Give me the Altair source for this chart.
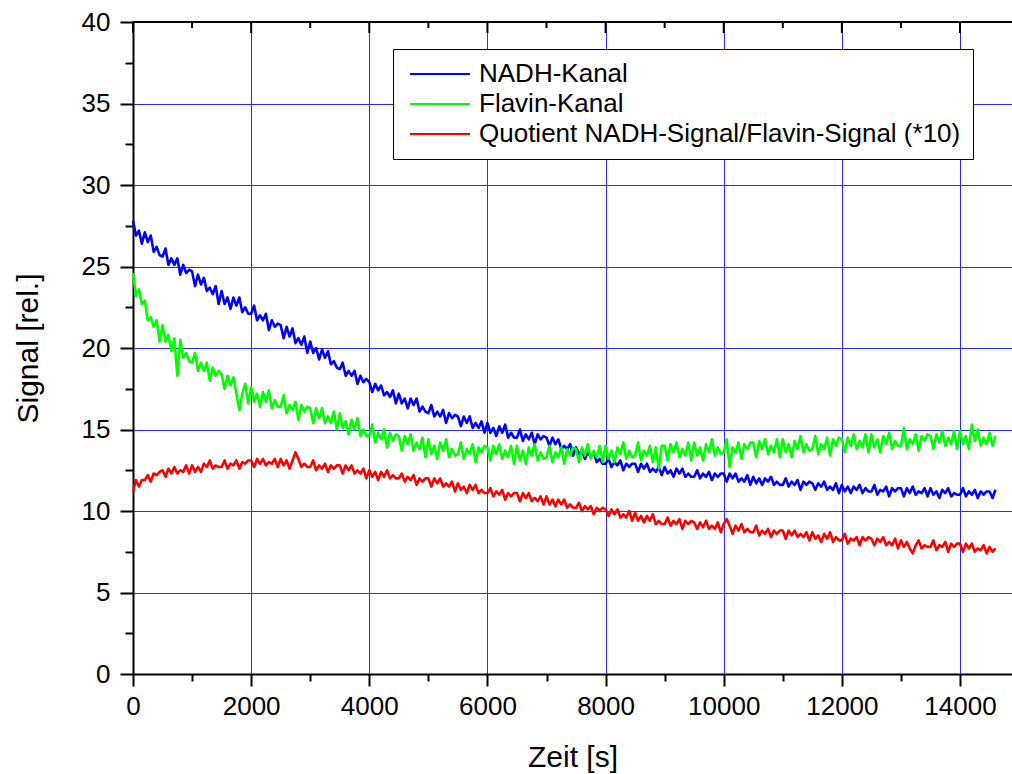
import altair as alt
import pandas as pd

# ---- values, one every 50 s (0 ... 14600 s) ----
nadh = [
    27.8, 26.9, 27.2, 26.4, 27.1, 26.5, 26.9, 25.9, 26.2, 25.7,
    25.6, 26.1, 25.1, 25.5, 25.1, 25.5, 24.5, 25.1, 24.6, 24.8,
    24.7, 23.8, 24.5, 23.9, 24.3, 23.5, 23.7, 23.3, 23.8, 22.7,
    23.5, 22.7, 23.1, 22.4, 23.1, 22.6, 23.1, 22.2, 22.5, 22.1,
    22.1, 22.6, 21.7, 22.0, 21.7, 22.1, 21.1, 21.7, 21.3, 21.5,
    21.4, 20.6, 21.3, 20.7, 21.2, 20.3, 20.6, 20.2, 20.7, 19.7,
    20.4, 19.7, 20.0, 19.3, 19.9, 19.4, 19.8, 19.0, 19.2, 18.8,
    18.7, 19.1, 18.3, 18.6, 18.3, 18.6, 17.8, 18.3, 17.9, 18.1,
    17.9, 17.3, 17.8, 17.4, 17.7, 17.1, 17.3, 17.0, 17.4, 16.6,
    17.2, 16.6, 16.9, 16.3, 16.9, 16.5, 16.9, 16.1, 16.4, 16.1,
    16.0, 16.5, 15.8, 16.1, 15.8, 16.2, 15.4, 16.0, 15.7, 15.9,
    15.8, 15.2, 15.8, 15.4, 15.8, 15.1, 15.4, 15.1, 15.5, 14.8,
    15.4, 14.8, 15.1, 14.6, 15.2, 14.8, 15.3, 14.5, 14.8, 14.5,
    14.5, 15.0, 14.3, 14.7, 14.4, 14.8, 14.1, 14.7, 14.4, 14.6,
    14.5, 14.0, 14.5, 14.1, 14.4, 13.8, 14.0, 13.8, 14.1, 13.4,
    13.9, 13.5, 13.7, 13.2, 13.6, 13.3, 13.6, 13.0, 13.2, 12.9,
    12.9, 13.2, 12.7, 13.0, 12.8, 13.1, 12.5, 12.9, 12.7, 12.9,
    12.9, 12.4, 12.9, 12.6, 12.9, 12.4, 12.6, 12.4, 12.7, 12.2,
    12.7, 12.3, 12.5, 12.1, 12.6, 12.3, 12.6, 12.1, 12.3, 12.1,
    12.1, 12.5, 12.0, 12.3, 12.1, 12.4, 11.9, 12.3, 12.1, 12.3,
    12.3, 11.8, 12.3, 12.0, 12.3, 11.8, 12.0, 11.8, 12.2, 11.6,
    12.1, 11.7, 12.0, 11.6, 12.0, 11.8, 12.1, 11.6, 11.8, 11.6,
    11.6, 12.0, 11.5, 11.8, 11.6, 11.9, 11.3, 11.8, 11.6, 11.8,
    11.7, 11.3, 11.7, 11.5, 11.8, 11.3, 11.5, 11.3, 11.7, 11.1,
    11.6, 11.2, 11.5, 11.1, 11.5, 11.3, 11.6, 11.1, 11.4, 11.2,
    11.2, 11.6, 11.0, 11.3, 11.2, 11.5, 10.9, 11.4, 11.2, 11.4,
    11.4, 10.9, 11.4, 11.1, 11.5, 11.0, 11.2, 11.1, 11.4, 10.9,
    11.4, 11.0, 11.2, 10.8, 11.3, 11.1, 11.4, 10.9, 11.1, 11.0,
    11.0, 11.4, 10.9, 11.2, 11.0, 11.3, 10.8, 11.2, 11.0, 11.2,
    11.2, 10.8, 11.3,
]
flavin = [
    24.6, 23.2, 23.6, 22.7, 22.9, 21.7, 21.9, 21.3, 21.7, 20.4,
    21.4, 20.4, 20.8, 19.8, 20.6, 18.3, 20.5, 19.4, 19.7, 19.2,
    19.1, 19.7, 18.6, 19.1, 18.6, 19.1, 18.0, 18.8, 18.3, 18.6,
    18.4, 17.5, 18.3, 17.7, 18.2, 17.2, 16.2, 17.2, 17.8, 16.6,
    17.6, 16.7, 17.2, 16.4, 17.3, 16.7, 17.4, 16.3, 16.8, 16.4,
    16.4, 17.1, 16.0, 16.5, 16.2, 16.7, 15.6, 16.5, 16.1, 16.4,
    16.3, 15.4, 16.3, 15.7, 16.3, 15.4, 15.8, 15.4, 16.1, 15.0,
    16.0, 15.1, 15.5, 14.7, 15.6, 15.0, 15.7, 14.6, 15.0, 14.6,
    14.6, 15.3, 14.2, 14.8, 14.4, 15.0, 13.9, 14.8, 14.3, 14.7,
    14.6, 13.7, 14.6, 14.1, 14.7, 13.7, 14.2, 13.8, 14.5, 13.3,
    14.4, 13.5, 14.0, 13.2, 14.2, 13.7, 14.4, 13.3, 13.8, 13.4,
    13.5, 14.2, 13.2, 13.8, 13.5, 14.1, 13.0, 13.9, 13.6, 14.0,
    13.9, 13.1, 14.0, 13.5, 14.1, 13.2, 13.7, 13.3, 14.0, 12.9,
    14.0, 13.1, 13.7, 12.9, 13.9, 13.4, 14.1, 13.1, 13.6, 13.2,
    13.3, 14.0, 13.0, 13.6, 13.3, 13.9, 12.9, 13.8, 13.4, 13.9,
    13.8, 13.0, 13.9, 13.4, 14.1, 13.2, 13.7, 13.3, 14.0, 13.0,
    14.0, 13.2, 13.7, 13.0, 13.9, 13.5, 14.2, 13.2, 13.7, 13.3,
    13.4, 14.2, 13.1, 13.7, 13.4, 14.0, 13.0, 13.9, 12.6, 14.0,
    14.0, 13.1, 14.1, 13.6, 14.2, 13.3, 13.8, 13.4, 14.2, 13.1,
    14.2, 13.4, 13.9, 13.1, 14.1, 13.6, 14.4, 13.4, 13.9, 13.5,
    13.6, 14.4, 12.7, 13.9, 13.6, 14.2, 13.2, 14.1, 13.8, 14.2,
    14.2, 13.3, 14.3, 13.8, 14.4, 13.5, 14.0, 13.6, 14.4, 13.3,
    14.4, 13.6, 14.1, 13.3, 14.3, 13.8, 14.6, 13.6, 14.1, 13.7,
    13.8, 14.6, 13.5, 14.1, 13.8, 14.5, 13.4, 14.4, 14.0, 14.5,
    14.4, 13.6, 14.5, 14.0, 14.7, 13.8, 14.3, 13.9, 14.7, 13.6,
    14.7, 13.9, 14.4, 13.6, 14.6, 14.1, 14.8, 13.8, 14.3, 14.0,
    14.0, 15.1, 13.8, 14.4, 14.1, 14.7, 13.7, 14.6, 14.3, 14.7,
    14.6, 13.8, 14.7, 14.2, 14.9, 14.0, 14.5, 14.1, 14.9, 13.8,
    14.9, 14.1, 14.6, 13.8, 15.3, 14.3, 15.0, 14.0, 14.5, 14.1,
    14.8, 14.0, 14.6,
]
quotient = [
    11.2, 11.9, 11.5, 11.9, 11.9, 12.2, 11.8, 12.3, 12.2, 12.4,
    12.5, 12.1, 12.6, 12.3, 12.7, 12.3, 12.5, 12.4, 12.8, 12.3,
    12.8, 12.4, 12.7, 12.4, 12.9, 12.7, 13.1, 12.6, 12.8, 12.7,
    12.7, 13.1, 12.6, 12.9, 12.8, 13.1, 12.6, 13.0, 12.9, 13.1,
    13.1, 12.7, 13.2, 12.9, 13.2, 12.8, 13.0, 12.9, 13.2, 12.7,
    13.2, 12.8, 13.1, 12.6, 13.1, 13.6, 13.2, 12.7, 12.9, 12.7,
    12.7, 13.1, 12.5, 12.8, 12.6, 12.9, 12.4, 12.8, 12.6, 12.8,
    12.8, 12.3, 12.8, 12.5, 12.8, 12.3, 12.5, 12.3, 12.6, 12.0,
    12.5, 12.1, 12.4, 11.9, 12.4, 12.1, 12.5, 12.0, 12.2, 12.0,
    12.0, 12.3, 11.8, 12.1, 11.9, 12.2, 11.6, 12.0, 11.8, 12.0,
    12.0, 11.5, 12.0, 11.7, 12.0, 11.5, 11.7, 11.5, 11.8, 11.2,
    11.7, 11.3, 11.5, 11.1, 11.6, 11.3, 11.6, 11.1, 11.3, 11.1,
    11.1, 11.4, 10.9, 11.2, 11.0, 11.3, 10.7, 11.1, 10.9, 11.1,
    11.1, 10.6, 11.1, 10.8, 11.1, 10.6, 10.8, 10.6, 10.9, 10.4,
    10.9, 10.4, 10.7, 10.3, 10.7, 10.4, 10.7, 10.2, 10.4, 10.2,
    10.2, 10.5, 10.0, 10.3, 10.1, 10.3, 9.8, 10.2, 10.0, 10.2,
    10.1, 9.7, 10.1, 9.8, 10.1, 9.6, 9.8, 9.6, 10.0, 9.4,
    9.9, 9.4, 9.7, 9.3, 9.7, 9.4, 9.8, 9.2, 9.4, 9.2,
    9.2, 9.6, 9.1, 9.4, 9.2, 9.5, 8.9, 9.4, 9.2, 9.4,
    9.3, 8.9, 9.3, 9.0, 9.4, 8.9, 9.1, 8.9, 9.3, 8.7,
    9.2, 9.5, 9.1, 8.6, 9.1, 8.8, 9.2, 8.7, 8.9, 8.7,
    8.7, 9.1, 8.5, 8.8, 8.6, 8.9, 8.4, 8.8, 8.6, 8.8,
    8.8, 8.3, 8.8, 8.5, 8.8, 8.4, 8.6, 8.4, 8.7, 8.2,
    8.7, 8.3, 8.5, 8.1, 8.6, 8.3, 8.7, 8.1, 8.4, 8.2,
    8.2, 8.6, 8.0, 8.3, 8.2, 8.4, 7.9, 8.4, 8.2, 8.4,
    8.3, 7.9, 8.3, 8.1, 8.4, 7.9, 8.1, 7.9, 8.3, 7.7,
    8.2, 7.8, 8.1, 7.7, 7.4, 7.9, 8.2, 7.7, 7.9, 7.8,
    7.8, 8.2, 7.6, 7.9, 7.8, 8.1, 7.5, 8.0, 7.8, 8.0,
    8.0, 7.5, 8.0, 7.7, 8.0, 7.5, 7.7, 7.6, 7.9, 7.4,
    7.8, 7.5, 7.7,
]
time_s = [50 * i for i in range(len(nadh))]

series_names = ["NADH-Kanal", "Flavin-Kanal", "Quotient NADH-Signal/Flavin-Signal (*10)"]
series_colors = ["#0000FF", "#00FF00", "#FF0000"]

x_ticks = [0, 1000, 2000, 3000, 4000, 5000, 6000, 7000, 8000, 9000, 10000, 11000, 12000, 13000, 14000]
x_major = [0, 2000, 4000, 6000, 8000, 10000, 12000, 14000]
x_minor = [1000, 3000, 5000, 7000, 9000, 11000, 13000]
y_ticks = [0, 2.5, 5, 7.5, 10, 12.5, 15, 17.5, 20, 22.5, 25, 27.5, 30, 32.5, 35, 37.5, 40]

rows = []
for name, vals in zip(series_names, [nadh, flavin, quotient]):
    for t, v in zip(time_s, vals):
        rows.append({"t": t, "v": v, "series": name})
df = pd.DataFrame(rows)

W, H = 879, 652
FONT = "Liberation Sans"

x_axis = alt.Axis(
    values=x_ticks, format="d", labelFlush=False,
    labelExpr="datum.value % 2000 === 0 ? datum.label : ''",
    tickSize={"condition": {"test": "datum.value % 2000 === 0", "value": 12}, "value": 7},
    gridOpacity={"condition": {"test": "datum.value % 2000 === 0", "value": 1}, "value": 0},
    grid=True, gridColor="#2a2aff", gridWidth=1,
    domainColor="black", domainWidth=2, tickColor="black", tickWidth=2,
    labelFont=FONT, labelFontSize=26, labelColor="black", labelPadding=7,
    title="Zeit [s]", titleFont=FONT, titleFontSize=30, titleFontWeight="normal",
    titleColor="black", titlePadding=23,
)
y_axis = alt.Axis(
    values=y_ticks, labelFlush=False,
    labelExpr="datum.value % 5 === 0 ? datum.label : ''",
    tickSize={"condition": {"test": "datum.value % 5 === 0", "value": 13}, "value": 8},
    gridOpacity={"condition": {"test": "datum.value % 5 === 0", "value": 1}, "value": 0},
    grid=True, gridColor="#2a2aff", gridWidth=1,
    domainColor="black", domainWidth=2, tickColor="black", tickWidth=2,
    labelFont=FONT, labelFontSize=26, labelColor="black", labelPadding=10,
    title="Signal [rel.]", titleFont=FONT, titleFontSize=30, titleFontWeight="normal",
    titleColor="black", titlePadding=38,
)
x_scale = alt.Scale(domain=[0, 14880], nice=False, zero=False)

lines = alt.Chart(df).mark_line(strokeWidth=2.6, strokeJoin="round").encode(
    x=alt.X("t:Q", scale=x_scale, axis=x_axis),
    y=alt.Y("v:Q", scale=alt.Scale(domain=[0, 40], nice=False), axis=y_axis),
    color=alt.Color(
        "series:N",
        scale=alt.Scale(domain=series_names, range=series_colors),
        sort=series_names,
        legend=alt.Legend(
            title=None, orient="none", legendX=260, legendY=27,
            symbolType="M-6,0H6", symbolSize=100, symbolStrokeWidth=2,
            symbolOffset=22,
            labelFont=FONT, labelFontSize=26, labelColor="black", labelOffset=26,
            labelLimit=800, rowPadding=4, padding=12,
            strokeColor="black", fillColor="white", cornerRadius=0,
        ),
    ),
    order=alt.Order("t:Q"),
)

top_line = alt.Chart(pd.DataFrame({"a": [0]})).mark_rule(color="black", strokeWidth=2).encode(
    x=alt.value(0), x2=alt.value(W), y=alt.value(0)
)
top_major = alt.Chart(pd.DataFrame({"t": x_major})).mark_rule(color="black", strokeWidth=2).encode(
    x=alt.X("t:Q", scale=x_scale, axis=x_axis), y=alt.value(0), y2=alt.value(11)
)
top_minor = alt.Chart(pd.DataFrame({"t": x_minor})).mark_rule(color="black", strokeWidth=2).encode(
    x=alt.X("t:Q", scale=x_scale, axis=x_axis), y=alt.value(0), y2=alt.value(6)
)

chart = alt.layer(lines, top_line, top_major, top_minor).properties(
    width=W, height=H,
    autosize=alt.AutoSizeParams(type="none"),
    padding={"left": 133, "top": 22, "right": 0, "bottom": 100},
    background="white",
).configure_view(stroke=None)

chart.save("out.html", embed_options={"renderer": "svg", "actions": False})
